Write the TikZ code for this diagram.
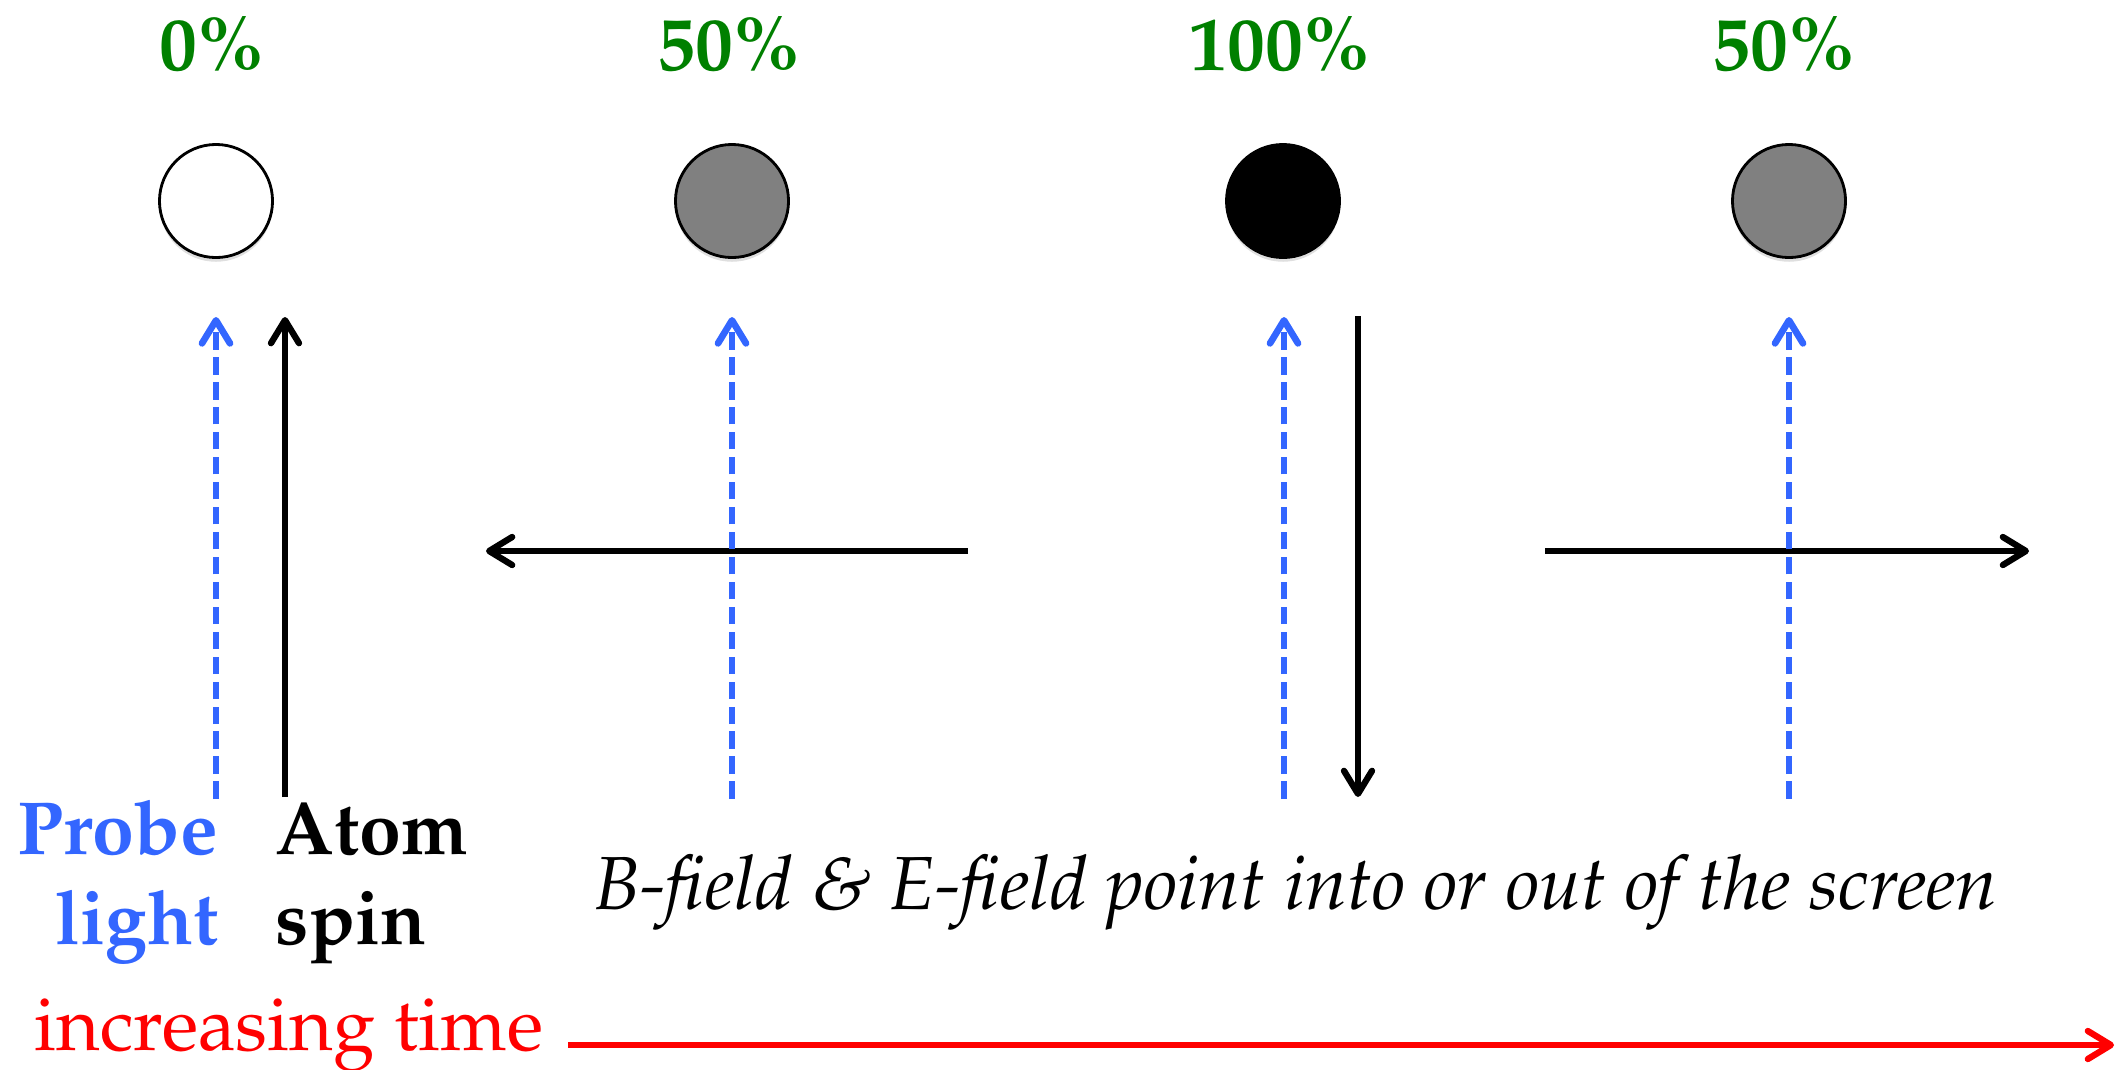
\documentclass[tikz,border=0pt]{standalone}
\usepackage[T1]{fontenc}
\usepackage{mathpazo}
\usetikzlibrary{arrows.meta,shadows}
\definecolor{pgreen}{RGB}{0,128,0}
\definecolor{pblue}{RGB}{51,102,255}
\definecolor{pred}{RGB}{255,0,0}
\definecolor{pgray}{RGB}{128,128,128}
\newcommand{\bigsz}{\fontsize{21.4pt}{25pt}\selectfont}
\tikzset{
  pct/.style={font=\fontsize{21.5pt}{24pt}\selectfont\bfseries, text=pgreen, inner sep=0, anchor=base},
  atomc/.style={circle, draw=black, line width=0.8pt, minimum size=1.13cm, inner sep=0,
     drop shadow={opacity=0.25, shadow xshift=0pt, shadow yshift=-1.2pt}},
  barbtip/.style={-{Straight Barb[length=0.23cm,width=0.28cm,round]}},
  spinarrow/.style={barbtip, line width=1.8pt, black},
  probearrow/.style={barbtip, line width=1.9pt, pblue, dash pattern=on 5pt off 2.1pt},
  timearrow/.style={barbtip, line width=1.8pt, pred},
  lbl/.style={inner sep=0, font=\bigsz},
}
\begin{document}
\begin{tikzpicture}[x=0.01cm,y=-0.01cm]
\useasboundingbox (0,0) rectangle (2115,1069);

% percentages
\node[pct] (p1) at (212,70) {0\%};
\node[pct] (p2) at (729,70) {50\%};
\node[pct] (p3) at (1280,70) {100\%};
\node[pct] (p4) at (1784,70) {50\%};

% circles
\node[atomc, fill=white] (c1) at (216,201) {};
\node[atomc, fill=pgray] (c2) at (732,201) {};
\node[atomc, fill=black] (c3) at (1283,201) {};
\node[atomc, fill=pgray] (c4) at (1789,201) {};

% endpoints
\coordinate (b1s) at (216,799); \coordinate (b1e) at (216,317);
\coordinate (b2s) at (732,799); \coordinate (b2e) at (732,317);
\coordinate (b3s) at (1284,799); \coordinate (b3e) at (1284,317);
\coordinate (b4s) at (1789,799); \coordinate (b4e) at (1789,317);
\coordinate (s1s) at (285,797); \coordinate (s1e) at (285,317);
\coordinate (s2s) at (968,551); \coordinate (s2e) at (486,551);
\coordinate (s3s) at (1358,316); \coordinate (s3e) at (1358,797);
\coordinate (s4s) at (1545,551); \coordinate (s4e) at (2029,551);
\coordinate (ts) at (568,1045); \coordinate (te) at (2114,1045);

% spin arrows
\draw[spinarrow] (s1s) -- (s1e);
\draw[spinarrow] (s2s) -- (s2e);
\draw[spinarrow] (s3s) -- (s3e);
\draw[spinarrow] (s4s) -- (s4e);

% probe light arrows
\draw[probearrow] (b1s) -- (b1e);
\draw[probearrow] (b2s) -- (b2e);
\draw[probearrow] (b3s) -- (b3e);
\draw[probearrow] (b4s) -- (b4e);

% time arrow
\draw[timearrow] (ts) -- (te);

% labels
\node[lbl, font=\bigsz\bfseries, text=pblue, anchor=base east] (probe) at (219,854) {Probe};
\node[lbl, font=\bigsz\bfseries, text=pblue, anchor=base east] (light) at (219,944) {light};
\node[lbl, font=\bigsz\bfseries, anchor=base west] (atom) at (275,854) {Atom};
\node[lbl, font=\bigsz\bfseries, anchor=base west] (spin) at (275,944) {spin};
\node[lbl, font=\bigsz\itshape, anchor=base west] (field) at (594,909) {B-field \& E-field point into or out of the screen};
\node[lbl, text=pred, anchor=base west] (time) at (34,1050) {increasing time};
\end{tikzpicture}
\end{document}
